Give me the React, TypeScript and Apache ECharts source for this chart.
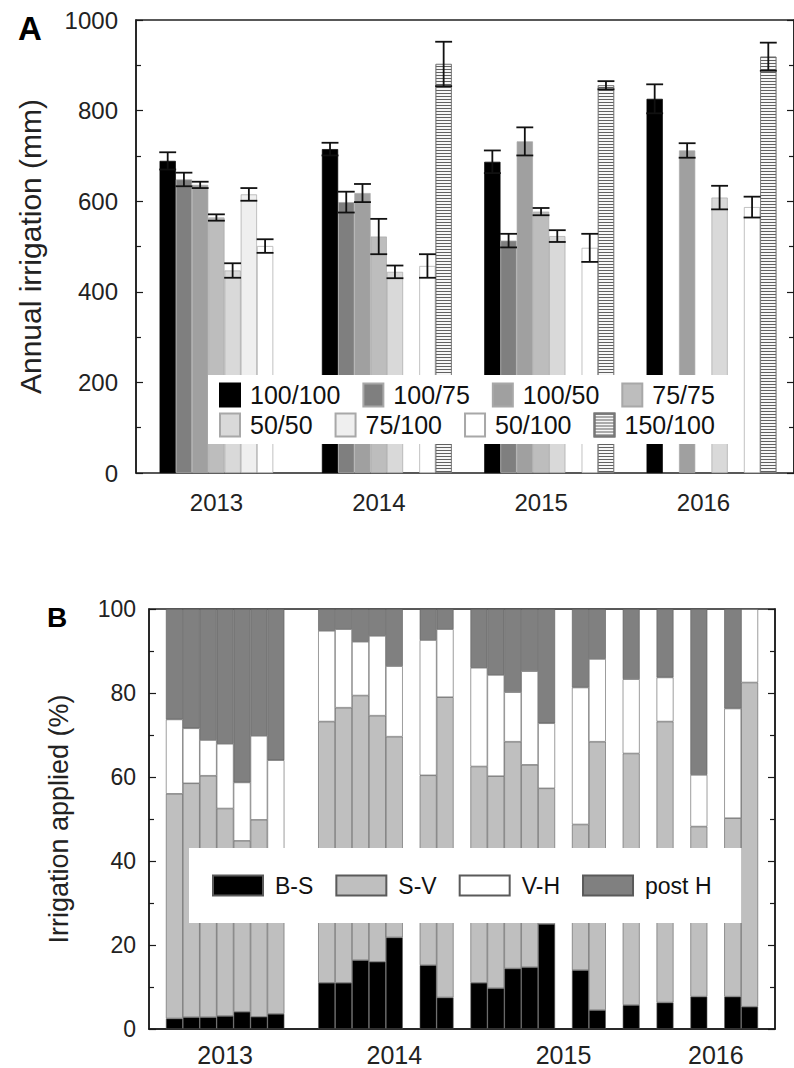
import React, { useEffect, useRef } from "react";
import * as echarts from "echarts";

// ---------- shared categories ----------
const years = ["2013", "2014", "2015", "2016"];
const treatments = ["100/100", "100/75", "100/50", "75/75", "50/50", "75/100", "50/100", "150/100"];

// ---------- Panel A: annual irrigation (mm), mean and error per year ----------
const irr100_100 = [689, 715, 687, 826];
const irr100_75 = [648, 598, 513, null];
const irr100_50 = [636, 618, 732, 712];
const irr75_75 = [564, 522, 577, null];
const irr50_50 = [447, 444, 523, 608];
const irr75_100 = [615, null, null, null];
const irr50_100 = [501, 457, 497, 587];
const irr150_100 = [null, 903, 856, 919];

const err100_100 = [19, 14, 25, 32];
const err100_75 = [15, 23, 15, null];
const err100_50 = [7, 20, 31, 16];
const err75_75 = [7, 39, 8, null];
const err50_50 = [16, 14, 13, 26];
const err75_100 = [14, null, null, null];
const err50_100 = [15, 26, 31, 23];
const err150_100 = [null, 49, 9, 31];

const yTicksA = [0, 200, 400, 600, 800, 1000];

// ---------- Panel B: share of irrigation per phase (%), rows = years, cols = treatments ----------
const phases = ["B-S", "S-V", "V-H", "post H"];
const shareBS = [
  2.5, 2.8, 2.8, 3.1, 4.1, 2.9, 3.6, null,
  11.0, 11.0, 16.4, 16.0, 21.8, null, 15.2, 7.5,
  11.0, 9.7, 14.4, 14.7, 25.0, null, 14.0, 4.5,
  5.7, null, 6.3, null, 7.7, null, 7.7, 5.3,
];
const shareSV = [
  53.5, 55.7, 57.5, 49.4, 40.7, 46.9, 34.4, null,
  62.2, 65.5, 63.0, 58.6, 47.8, null, 45.2, 71.5,
  51.5, 50.5, 54.0, 48.2, 32.3, null, 34.7, 63.9,
  59.9, null, 66.9, null, 40.5, null, 42.5, 77.2,
];
const shareVH = [
  17.7, 13.1, 8.5, 15.4, 13.9, 20.0, 26.0, null,
  21.6, 18.7, 12.8, 19.0, 16.8, null, 32.2, 16.2,
  23.5, 24.1, 11.8, 22.3, 15.5, null, 32.6, 19.7,
  17.7, null, 10.5, null, 12.3, null, 26.1, 17.5,
];
const sharePostH = [
  26.3, 28.4, 31.2, 32.1, 41.3, 30.2, 36.0, null,
  5.2, 4.8, 7.8, 6.4, 13.6, null, 7.4, 4.8,
  14.0, 15.7, 19.8, 14.8, 27.2, null, 18.7, 11.9,
  16.7, null, 16.3, null, 39.5, null, 23.7, 0,
];
const yTicksB = [0, 20, 40, 60, 80, 100];

// ---------- styling ----------
const FONT = "'Liberation Sans', Arial, Helvetica, sans-serif";
const treatmentColors = ["#000000", "#7f7f7f", "#a0a0a0", "#bdbdbd", "#d9d9d9", "#efefef", "#ffffff", "#f6f6f6"];
const phaseColors = ["#000000", "#bfbfbf", "#ffffff", "#808080"];
const labelTreatmentPerYear = [3, 4, 5, 5]; // which slot carries the year label in panel B

const irrigationMeans = [irr100_100, irr100_75, irr100_50, irr75_75, irr50_50, irr75_100, irr50_100, irr150_100];
const irrigationErrors = [err100_100, err100_75, err100_50, err75_75, err50_50, err75_100, err50_100, err150_100];
const phaseShares = [shareBS, shareSV, shareVH, sharePostH];

function buildOption() {
  const nT = treatments.length;

  // Panel B slot layout: spacer, 8 treatments per year, spacer between years
  const slotNames: string[] = [];
  const labelSlots = new Set<number>();
  const slotSource: number[] = [];
  slotNames.push("gap0");
  slotSource.push(-1);
  years.forEach((yr, y) => {
    treatments.forEach((tr, t) => {
      if (t === labelTreatmentPerYear[y]) labelSlots.add(slotNames.length);
      slotNames.push(yr + " " + tr);
      slotSource.push(y * nT + t);
    });
    slotNames.push("gap" + (y + 1));
    slotSource.push(-1);
  });
  const phaseData = phaseShares.map((arr) => slotSource.map((s) => (s === -1 ? null : arr[s])));

  const errData: number[][] = [];
  irrigationMeans.forEach((means, t) => {
    means.forEach((m, y) => {
      const e = irrigationErrors[t][y];
      if (m != null && e != null) errData.push([y, t, m, e]);
    });
  });

  const axisLineStyle = { color: "#1a1a1a", width: 1.5 };
  const tickStyle = { color: "#1a1a1a", width: 1.2 };

  const barSeriesA = treatments.map((name, i) => {
    const itemStyle: any = {
      color: treatmentColors[i],
      borderColor: i === 0 ? "#000" : i === 7 ? "#777" : "#a8a8a8",
      borderWidth: 0.7,
    };
    if (i === 7) {
      itemStyle.decal = {
        symbol: "rect",
        symbolSize: 1,
        color: "#606060",
        dashArrayX: [1, 0],
        dashArrayY: [1, 2],
        rotation: 0,
      };
    }
    return {
      name,
      type: "bar",
      xAxisIndex: 1,
      yAxisIndex: 2,
      data: irrigationMeans[i],
      barGap: "0%",
      barCategoryGap: "20%",
      itemStyle,
      emphasis: { disabled: true },
    };
  });

  const errSeries = {
    type: "custom",
    xAxisIndex: 1,
    yAxisIndex: 2,
    data: errData,
    encode: { x: 0, y: 2 },
    z: 3,
    renderItem: (params: any, api: any) => {
      const cat = api.value(0);
      const t = api.value(1);
      const m = api.value(2);
      const e = api.value(3);
      const band = api.size([1, 0])[0];
      const bw = (band * 0.8) / nT;
      const cx = api.coord([cat, m])[0] + (t - (nT - 1) / 2) * bw;
      const yTop = api.coord([cat, m + e])[1];
      const yBot = api.coord([cat, m - e])[1];
      const hw = bw * 0.52;
      const style = { stroke: "#111", lineWidth: 1.8 };
      return {
        type: "group",
        children: [
          { type: "line", shape: { x1: cx, y1: yTop, x2: cx, y2: yBot }, style },
          { type: "line", shape: { x1: cx - hw, y1: yTop, x2: cx + hw, y2: yTop }, style },
          { type: "line", shape: { x1: cx - hw, y1: yBot, x2: cx + hw, y2: yBot }, style },
        ],
      };
    },
  };

  const barSeriesB = phases.map((name, k) => ({
    name,
    type: "bar",
    stack: "share",
    xAxisIndex: 2,
    yAxisIndex: 3,
    data: phaseData[k],
    barCategoryGap: "0%",
    itemStyle: { color: phaseColors[k], borderColor: "#5a5a5a", borderWidth: 0.6 },
    emphasis: { disabled: true },
  }));

  const legendA = {
    orient: "horizontal",
    icon: "rect",
    itemWidth: 20,
    itemHeight: 23,
    itemGap: 22,
    backgroundColor: "#ffffff",
    selectedMode: false,
    textStyle: { fontSize: 25, lineHeight: 26, color: "#111", fontFamily: FONT, padding: [0, 0, 0, 5] },
    z: 10,
  };

  const plainNumber = (v: number) => String(v);

  return {
    animation: false,
    textStyle: { fontFamily: FONT },
    grid: [
      { left: 136, right: -6, top: 20, bottom: 595, show: true, borderColor: "#222", borderWidth: 1.5 },
      { left: 143.35, right: 1.35, top: 20, bottom: 595 },
      { left: 149, right: 19, top: 609, bottom: 39, show: true, borderColor: "#222", borderWidth: 1.5 },
    ],
    xAxis: [
      { gridIndex: 0, type: "value", min: 0, max: 1, show: false },
      {
        gridIndex: 1,
        type: "category",
        data: years,
        axisLine: { show: false },
        axisTick: { show: false },
        axisLabel: { fontSize: 24, color: "#222", margin: 17, padding: [0, 16, 0, 0], fontFamily: FONT },
      },
      {
        gridIndex: 2,
        type: "category",
        data: slotNames,
        axisLine: { lineStyle: axisLineStyle },
        axisTick: { show: false },
        axisLabel: {
          interval: (i: number) => labelSlots.has(i),
          formatter: (v: string) => v.split(" ")[0],
          fontSize: 25,
          color: "#222",
          margin: 13,
          fontFamily: FONT,
        },
      },
    ],
    yAxis: [
      {
        gridIndex: 0,
        type: "value",
        min: yTicksA[0],
        max: yTicksA[yTicksA.length - 1],
        interval: yTicksA[1] - yTicksA[0],
        name: "Annual irrigation (mm)",
        nameLocation: "middle",
        nameGap: 91,
        nameTextStyle: { fontSize: 30, color: "#222", fontFamily: FONT },
        axisLine: { show: true, lineStyle: axisLineStyle },
        axisTick: { show: true, inside: true, length: 7, lineStyle: tickStyle },
        minorTick: { show: true, splitNumber: 2, length: 5, lineStyle: tickStyle },
        splitLine: { show: false },
        axisLabel: { fontSize: 24, color: "#222", margin: 18, fontFamily: FONT, formatter: plainNumber },
      },
      {
        gridIndex: 0,
        type: "value",
        position: "right",
        min: yTicksA[0],
        max: yTicksA[yTicksA.length - 1],
        interval: yTicksA[1] - yTicksA[0],
        axisLine: { show: true, lineStyle: axisLineStyle },
        axisTick: { show: true, inside: true, length: 7, lineStyle: tickStyle },
        minorTick: { show: true, splitNumber: 2, length: 5, lineStyle: tickStyle },
        splitLine: { show: false },
        axisLabel: { show: false },
      },
      { gridIndex: 1, type: "value", min: 0, max: 1000, show: false, splitLine: { show: false } },
      {
        gridIndex: 2,
        type: "value",
        min: yTicksB[0],
        max: yTicksB[yTicksB.length - 1],
        interval: yTicksB[1] - yTicksB[0],
        name: "Irrigation applied (%)",
        nameLocation: "middle",
        nameGap: 77,
        nameTextStyle: { fontSize: 27, color: "#222", fontFamily: FONT },
        axisLine: { show: true, lineStyle: axisLineStyle },
        axisTick: { show: true, inside: true, length: 7, lineStyle: tickStyle },
        minorTick: { show: true, splitNumber: 2, length: 5, lineStyle: tickStyle },
        splitLine: { show: false },
        axisLabel: { fontSize: 23, color: "#222", margin: 13, fontFamily: FONT, formatter: plainNumber },
      },
      {
        gridIndex: 2,
        type: "value",
        position: "right",
        min: yTicksB[0],
        max: yTicksB[yTicksB.length - 1],
        interval: yTicksB[1] - yTicksB[0],
        axisLine: { show: true, lineStyle: axisLineStyle },
        axisTick: { show: true, inside: true, length: 7, lineStyle: tickStyle },
        minorTick: { show: true, splitNumber: 2, length: 5, lineStyle: tickStyle },
        splitLine: { show: false },
        axisLabel: { show: false },
      },
    ],
    legend: [
      { ...legendA, data: treatments.slice(0, 4), left: 208, top: 375, padding: [7, 20, 3, 11] },
      { ...legendA, data: treatments.slice(4), left: 208, top: 410, padding: [2, 20, 6, 11] },
      {
        orient: "horizontal",
        icon: "rect",
        data: phases,
        left: 189,
        top: 848,
        padding: [26, 30, 26, 23],
        itemWidth: 50,
        itemHeight: 20,
        itemGap: 22,
        backgroundColor: "#ffffff",
        selectedMode: false,
        textStyle: { fontSize: 23, lineHeight: 20, color: "#111", fontFamily: FONT, padding: [0, 0, 0, 7] },
        z: 10,
      },
    ],
    graphic: [
      {
        type: "text",
        x: 18,
        y: 28,
        style: { text: "A", fontSize: 33, fontWeight: "bold", fontFamily: FONT, fill: "#000", verticalAlign: "middle" },
      },
      {
        type: "text",
        x: 47,
        y: 617,
        style: { text: "B", fontSize: 28, fontWeight: "bold", fontFamily: FONT, fill: "#000", verticalAlign: "middle" },
      },
    ],
    series: [...barSeriesA, errSeries, ...barSeriesB],
  };
}

export default function App() {
  const ref = useRef<HTMLDivElement>(null);
  useEffect(() => {
    if (!ref.current) return;
    const chart = echarts.init(ref.current, undefined, { renderer: "svg" });
    chart.setOption(buildOption() as any);
    return () => chart.dispose();
  }, []);
  return (
    <div
      ref={ref}
      style={{ position: "absolute", left: 0, top: 0, width: 794, height: 1068, background: "#fff" }}
    />
  );
}
